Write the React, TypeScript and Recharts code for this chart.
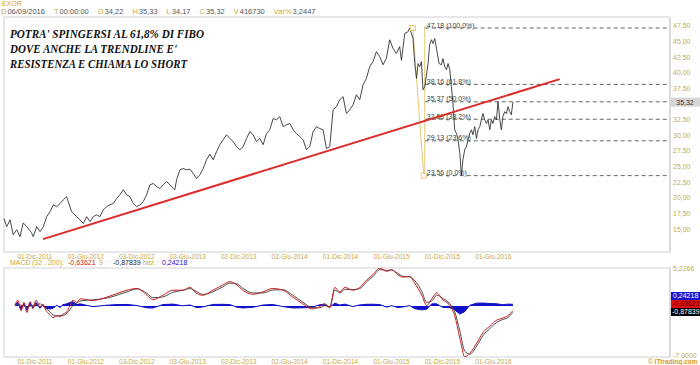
import React from 'react';
import {
  Area,
  ComposedChart,
  Line,
  ReferenceArea,
  ReferenceDot,
  ReferenceLine,
  XAxis,
  YAxis,
} from 'recharts';

// time axis is in weeks from mid-Aug 2011
const dateLabels = [
  '01-Dic-2011', '01-Giu-2012', '03-Dic-2012', '03-Giu-2013', '02-Dic-2013',
  '02-Giu-2014', '01-Dic-2014', '01-Giu-2015', '01-Dic-2015', '01-Giu-2016',
];
const dateTickWeeks = [15.8, 41.8, 67.8, 93.8, 119.8, 145.8, 171.8, 197.8, 223.8, 249.8];
const weekDomain = [0, 340];

// 35,00 sits under the last-price tag, so it is not listed
const priceTicks = [15, 17.5, 20, 22.5, 25, 27.5, 30, 32.5, 37.5, 40, 42.5, 45, 47.5];
const priceDomain = [11.34, 48.94];

// [week, close]
const closes: [number, number][] = [
  [0, 16.7], [1.4, 15.4], [3.1, 16.5], [4.7, 14.1], [6.5, 14.9], [8.2, 13.8], [9.8, 16.0], [11.6, 15.4],
  [14.1, 14.4], [14.9, 13.8], [16.7, 15.4], [18.4, 14.6], [20.1, 15.4], [21.8, 17.0], [23.5, 17.8], [25.2, 18.9],
  [26.9, 18.6], [28.6, 19.1], [30.3, 19.7], [32.0, 20.2], [32.8, 19.4], [34.5, 17.8], [35.4, 17.5], [37.1, 17.0],
  [38.8, 16.5], [40.5, 15.9], [42.2, 17.0], [43.9, 16.2], [45.6, 17.0], [47.3, 17.3], [49.0, 17.0], [50.7, 18.1],
  [52.4, 18.6], [54.1, 18.9], [55.8, 19.1], [57.5, 19.9], [59.2, 20.5], [60.9, 21.3], [62.6, 20.5], [64.3, 20.2],
  [66.0, 19.1], [67.7, 18.6], [69.4, 18.9], [71.1, 19.4], [72.8, 20.5], [74.5, 22.1], [76.2, 22.3], [77.9, 21.8],
  [79.6, 21.5], [81.3, 22.1], [83.0, 22.6], [84.7, 22.1], [86.4, 21.5], [87.2, 21.3], [88.1, 22.9], [89.8, 24.5],
  [91.5, 24.7], [93.2, 24.5], [94.9, 24.6], [96.6, 23.9], [98.3, 23.1], [100.0, 23.7], [101.7, 24.7], [103.4, 26.1],
  [105.1, 27.0], [106.8, 26.1], [108.5, 27.4], [110.2, 28.5], [111.9, 29.3], [113.6, 30.1], [115.3, 29.5], [117.0, 29.0],
  [118.7, 28.2], [120.4, 27.7], [122.1, 28.2], [123.8, 29.5], [125.5, 30.6], [127.2, 30.1], [128.9, 29.0], [130.6, 29.5],
  [132.3, 28.5], [134.0, 30.3], [135.7, 30.9], [137.4, 32.7], [139.1, 32.5], [140.8, 33.0], [142.5, 31.4], [144.2, 31.7],
  [145.9, 31.9], [147.6, 30.9], [149.3, 30.3], [151.0, 29.8], [152.7, 29.3], [154.4, 27.7], [156.1, 28.2], [157.8, 30.6],
  [159.5, 31.4], [161.2, 31.1], [162.9, 30.9], [164.6, 27.9], [166.3, 28.2], [168.0, 34.1], [169.7, 34.6], [171.4, 35.7],
  [173.1, 36.2], [174.8, 33.5], [176.5, 34.1], [178.2, 34.9], [179.9, 36.5], [181.6, 35.7], [183.3, 38.1], [185.0, 39.1],
  [186.7, 41.0], [188.4, 41.8], [190.1, 43.4], [191.8, 42.6], [193.5, 41.3], [195.2, 42.3], [196.9, 45.3], [198.6, 43.9],
  [200.3, 43.1], [202.0, 44.2], [202.9, 42.0], [204.6, 46.3], [206.3, 46.6], [207.1, 47.18], [208.8, 45.5], [209.7, 41.5],
  [210.6, 39.1], [211.4, 41.5], [212.2, 41.0], [213.1, 41.8], [213.9, 37.3], [214.8, 37.8], [216.5, 41.5], [217.3, 44.5],
  [218.2, 45.3], [219.0, 44.7], [219.9, 45.5], [220.8, 43.9], [222.1, 41.5], [223.3, 41.3], [224.1, 42.3], [225.0, 41.0],
  [225.9, 40.5], [226.7, 41.5], [227.6, 40.5], [228.4, 37.8], [229.2, 35.1], [230.1, 30.9], [231.0, 30.3], [231.8, 29.3],
  [232.7, 27.1], [233.5, 23.6], [234.3, 26.1], [235.2, 27.7], [236.1, 28.2], [236.9, 29.3], [237.8, 30.3], [238.6, 30.9],
  [239.4, 30.1], [240.3, 31.4], [241.2, 29.5], [242.0, 30.9], [242.9, 31.4], [243.7, 32.5], [244.5, 33.5], [245.4, 32.5],
  [246.3, 31.9], [247.1, 32.5], [248.0, 30.9], [248.8, 32.5], [249.6, 31.9], [250.5, 33.0], [251.4, 32.5], [252.2, 35.4],
  [253.1, 32.5], [253.9, 30.9], [254.7, 33.0], [255.6, 33.8], [256.5, 33.5], [257.3, 34.6], [258.2, 33.8], [259.0, 33.3],
  [259.8, 35.32],
];

// fibonacci retracement drawn on the 2015-2016 swing
const fibValues = [47.18, 38.16, 35.37, 32.58, 29.13, 23.56];
const fibPercents = ['100,0%', '61,8%', '50,0%', '38,2%', '23,6%', '0,0%'];
const fibHighWeek = 208.7;
const fibLowWeek = 214.3;
const fibStartWeek = 214.8;

// trendline [week, price]
const trendStart = [19.9, 13.4];
const trendEnd = [283.7, 39.0];

const lastClose = 35.32;

const headerFields = [
  ['D', '06/09/2016'], ['T', '00:00:00'], ['O', '34,22'], ['H', '35,33'],
  ['L', '34,17'], ['C', '35,32'], ['V', '416730'], ['Var%', '3,2447'],
];
const titleLines = [
  "POTRA' SPINGERSI AL 61,8% DI FIBO",
  "DOVE ANCHE LA TRENDLINE E'",
  'RESISTENZA E CHIAMA LO SHORT',
];

// MACD (32, 200) : [week, macd, signal, hist]
const macdRows: [number, number, number, number][] = [
  [5.6, 0.1, 0.0, 0.2], [7.1, 0.8, 0.3, 0.5], [8.7, -0.6, 0.1, -0.6], [10.2, 0.5, 0.0, 0.4],
  [11.7, -0.9, -0.2, -0.6], [13.3, 0.6, 0.0, 0.5], [14.8, -0.35, 0.1, -0.3], [16.3, 0.8, 0.2, 0.5],
  [18.4, -0.1, 0.3, -0.3], [19.9, 0.2, 0.0, 0.2], [21.4, -0.6, -0.3, -0.3], [23.5, -1.2, -0.8, -0.4],
  [25.0, -1.6, -1.2, -0.3], [27.0, -1.3, -1.4, 0.1], [28.6, -1.5, -1.3, -0.2], [30.1, -1.1, -1.3, 0.2],
  [32.1, -0.8, -1.0, 0.3], [33.7, 0.1, -0.5, 0.5], [35.2, 0.8, 0.1, 0.6], [37.2, 0.5, 0.4, 0.2],
  [38.8, 1.0, 0.7, 0.3], [45.4, 0.77, 0.85, -0.08], [52.6, 1.24, 1.1, 0.12], [57.7, 1.72, 1.5, 0.2],
  [62.8, 2.18, 1.95, 0.22], [67.9, 2.42, 2.35, 0.07], [73.0, 1.48, 1.75, -0.25], [76.0, 0.87, 1.15, -0.27],
  [81.1, 1.48, 1.25, 0.2], [86.2, 2.18, 1.9, 0.27], [91.3, 2.18, 2.15, 0.03], [94.9, 2.56, 2.4, 0.15],
  [98.5, 1.72, 1.95, -0.22], [101.5, 1.48, 1.6, -0.12], [106.6, 2.18, 1.95, 0.22], [111.7, 2.89, 2.65, 0.24],
  [115.3, 3.35, 3.15, 0.2], [118.9, 2.89, 3.05, -0.16], [121.9, 2.18, 2.45, -0.26], [127.0, 1.62, 1.8, -0.18],
  [132.1, 1.94, 1.8, 0.14], [137.2, 2.42, 2.2, 0.22], [142.3, 2.18, 2.25, -0.07], [147.4, 1.24, 1.5, -0.26],
  [152.5, 0.31, 0.55, -0.24], [157.1, -0.39, -0.2, -0.19], [161.2, -0.07, -0.25, 0.18], [163.8, 0.31, 0.05, 0.26],
  [166.3, -0.25, -0.1, -0.15], [168.9, 2.56, 2.2, 0.4], [171.4, 1.94, 1.8, 0.14], [174.0, 2.56, 2.3, 0.26],
  [178.1, 2.18, 2.25, -0.07], [181.6, 2.56, 2.4, 0.16], [185.2, 3.59, 3.35, 0.24], [188.3, 4.3, 4.05, 0.25],
  [191.8, 5.2, 5.0, 0.2], [195.4, 4.76, 4.9, -0.14], [197.9, 5.0, 4.95, 0.05], [201.0, 4.3, 4.5, -0.2],
  [203.6, 3.97, 4.1, -0.13], [207.1, 4.06, 4.0, 0.06], [209.7, 3.13, 3.5, -0.37], [213.3, 1.48, 2.0, -0.52],
  [215.8, 0.07, 0.5, -0.43], [218.4, 1.01, 0.7, 0.31], [220.9, 1.8, 1.5, 0.3], [224.0, 0.87, 1.05, -0.18],
  [227.6, 0.07, 0.3, -0.23], [230.1, -1.34, -0.8, -0.54], [232.7, -4.39, -3.4, -1.1], [235.2, -6.97, -6.2, -0.77],
  [237.8, -6.5, -6.6, 0.1], [241.3, -5.1, -5.5, 0.4], [244.4, -3.69, -4.1, 0.41], [248.0, -2.75, -3.1, 0.35],
  [251.5, -1.94, -2.25, 0.31], [254.6, -1.66, -1.85, 0.19], [257.1, -1.34, -1.6, 0.26], [259.8, -0.636, -0.878, 0.242],
];
const macdDomain = [-7, 5.2266];
const macdTicks = [5.2266, -7];
const macdLast = { macd: -0.63621, signal: -0.87839, hist: 0.24218 };

const GOLD = '#c9a83e';
const SANS = '"Liberation Sans", Arial, sans-serif';
const YELLOW = '#e3c874';

const comma = (v: number, d: number) => v.toFixed(d).replace('.', ',');

const priceData = closes.map(([week, close]) => ({ week, close }));
const macdData = macdRows.map(([week, macd, signal, hist]) => ({ week, macd, signal, hist }));

function DateTick(props: any) {
  const { x, y, payload } = props;
  const i = dateTickWeeks.indexOf(payload.value);
  return (
    <text x={x} y={y + 7} textAnchor="middle" fontSize={6.5} fontFamily={SANS} fill={GOLD}>
      {dateLabels[i] ?? ''}
    </text>
  );
}

function MacdTick(props: any) {
  const { x, y, payload } = props;
  // the bottom value is lifted a little so it clears the copyright line
  const shift = payload.value < 0 ? -2 : 0;
  return (
    <text x={x} y={y + 2.5 + shift} fontSize={7} fontFamily={SANS} fill={GOLD}>
      {comma(payload.value, 4)}
    </text>
  );
}

const fibLabel = (text: string) => (props: any) => {
  const vb = props.viewBox || {};
  return (
    <text x={(vb.x ?? 0) + 2} y={(vb.y ?? 0) - 0.5} fontSize={7} fontFamily={SANS} fill="#444">
      {text}
    </text>
  );
};

function PriceTag(props: any) {
  const vb = props.viewBox || {};
  const right = (vb.x ?? 0) + (vb.width ?? 0);
  const y = vb.y ?? 0;
  return (
    <g>
      <rect x={right + 1} y={y - 4.5} width={30} height={9} fill="#d6d6d6" />
      <text x={right + 15} y={y + 2.5} textAnchor="middle" fontSize={7} fontFamily={SANS} fill="#333">
        {comma(lastClose, 2)}
      </text>
    </g>
  );
}

const square = (p: any) => (
  <rect x={p.cx - 2.5} y={p.cy - 2.5} width={5} height={5} fill="#fff" stroke={YELLOW} strokeWidth={1} />
);

export default function App() {
  const txt = { position: 'absolute' as const, fontFamily: SANS, fontSize: 7, lineHeight: '8px', whiteSpace: 'nowrap' as const };
  return (
    <div style={{ position: 'absolute', left: 0, top: 0, width: 700, height: 365, background: '#fff', overflow: 'hidden' }}>
      {/* price panel */}
      <div style={{ position: 'absolute', left: 0, top: 0 }}>
        <ComposedChart width={700} height={262} data={priceData} margin={{ top: 17, right: 0, bottom: 0, left: 4 }}>
          <ReferenceArea x1={weekDomain[0]} x2={weekDomain[1]} y1={priceDomain[0]} y2={priceDomain[1]} fill="none" stroke="#d0d0d0" />
          <XAxis
            dataKey="week"
            type="number"
            domain={weekDomain}
            ticks={dateTickWeeks}
            height={10}
            axisLine={false}
            tickLine={false}
            tickSize={0}
            tickMargin={0}
            interval={0}
            tick={<DateTick />}
          />
          <YAxis
            orientation="right"
            type="number"
            width={30}
            domain={priceDomain}
            allowDataOverflow
            ticks={priceTicks}
            interval={0}
            tickFormatter={(v: number) => comma(v, 2)}
            tickLine={false}
            tickSize={0}
            tickMargin={3}
            axisLine={{ stroke: '#cfcfcf' }}
            tick={{ fontSize: 7, fill: GOLD, fontFamily: SANS }}
          />
          {fibValues.map((v, i) => (
            <ReferenceLine
              key={v}
              segment={[{ x: fibStartWeek, y: v }, { x: weekDomain[1], y: v }]}
              stroke="#666"
              strokeDasharray="4 3"
              label={fibLabel(`${comma(v, 2)} (${fibPercents[i]})`)}
            />
          ))}
          <ReferenceLine
            segment={[{ x: fibHighWeek, y: fibValues[0] }, { x: fibLowWeek, y: fibValues[5] }]}
            stroke={YELLOW}
          />
          <ReferenceLine
            segment={[{ x: fibStartWeek, y: fibValues[0] + 0.3 }, { x: fibStartWeek, y: fibValues[5] - 0.3 }]}
            stroke={YELLOW}
          />
          <Line
            dataKey="close"
            type="linear"
            stroke="#333"
            strokeWidth={0.9}
            dot={false}
            isAnimationActive={false}
          />
          <ReferenceLine
            segment={[{ x: trendStart[0], y: trendStart[1] }, { x: trendEnd[0], y: trendEnd[1] }]}
            stroke="#dd2a2a"
            strokeWidth={2}
          />
          <ReferenceDot x={fibHighWeek} y={fibValues[0]} r={3} shape={square} />
          <ReferenceDot x={fibLowWeek} y={fibValues[5]} r={3} shape={square} />
          <ReferenceLine y={lastClose} stroke="none" label={PriceTag} />
        </ComposedChart>
      </div>

      {/* MACD panel */}
      <div style={{ position: 'absolute', left: 0, top: 260 }}>
        <ComposedChart width={700} height={105} data={macdData} margin={{ top: 8, right: 0, bottom: 0, left: 4 }}>
          <ReferenceArea x1={weekDomain[0]} x2={weekDomain[1]} y1={macdDomain[0]} y2={macdDomain[1]} fill="none" stroke="#d0d0d0" />
          <XAxis
            dataKey="week"
            type="number"
            domain={weekDomain}
            ticks={dateTickWeeks}
            height={8}
            axisLine={false}
            tickLine={false}
            tickSize={0}
            tickMargin={0}
            interval={0}
            tick={<DateTick />}
          />
          <YAxis
            orientation="right"
            type="number"
            width={30}
            domain={macdDomain}
            allowDataOverflow
            ticks={macdTicks}
            interval={0}
            tickLine={false}
            tickSize={0}
            tickMargin={3}
            axisLine={{ stroke: '#cfcfcf' }}
            tick={<MacdTick />}
          />
          <Area
            dataKey="hist"
            type="linear"
            baseValue={0}
            stroke="#1010c8"
            strokeWidth={1}
            fill="#1010c8"
            fillOpacity={1}
            dot={false}
            isAnimationActive={false}
          />
          <Line dataKey="signal" type="monotone" stroke="#4a4a4a" strokeWidth={1} dot={false} isAnimationActive={false} />
          <Line dataKey="macd" type="monotone" stroke="#cc2222" strokeWidth={1} dot={false} isAnimationActive={false} />
        </ComposedChart>
      </div>

      {/* header */}
      <div style={{ ...txt, left: 2, top: 0, lineHeight: '7px', color: '#d9a23c' }}>EXOR</div>
      <div style={{ ...txt, left: 1, top: 8, lineHeight: '7px', fontSize: 7.5, display: 'flex', gap: 9 }}>
        {headerFields.map(([k, v]) => (
          <span key={k}>
            <span style={{ color: GOLD, marginRight: 1 }}>{k}</span>
            <span style={{ color: '#555' }}>{v}</span>
          </span>
        ))}
      </div>

      {/* comment on the chart */}
      <svg width={260} height={80} style={{ position: 'absolute', left: 0, top: 0 }}>
        {titleLines.map((line, i) => (
          <text
            key={line}
            x={10}
            y={38 + i * 15}
            fontFamily='"Liberation Serif", "Times New Roman", serif'
            fontWeight="bold"
            fontStyle="italic"
            fontSize={12.5}
            fill="#111"
            textLength={[194, 167, 177][i]}
            lengthAdjust="spacingAndGlyphs"
          >
            {line}
          </text>
        ))}
      </svg>

      {/* MACD legend */}
      <div style={{ ...txt, left: 10, top: 259, color: GOLD }}>MACD</div>
      <div style={{ ...txt, left: 32, top: 259, color: GOLD }}>(32 , 200):</div>
      <div style={{ ...txt, left: 68, top: 259, color: '#cc2222' }}>{comma(macdLast.macd, 5)}</div>
      <div style={{ ...txt, left: 99, top: 259, color: GOLD }}>9 :</div>
      <div style={{ ...txt, left: 113, top: 259, color: '#222' }}>{comma(macdLast.signal, 5)}</div>
      <div style={{ ...txt, left: 143, top: 259, color: GOLD }}>hist :</div>
      <div style={{ ...txt, left: 162, top: 259, color: '#1010c8' }}>{comma(macdLast.hist, 5)}</div>

      {/* MACD value boxes */}
      <div style={{ ...txt, left: 671, top: 292, width: 29, height: 8, background: '#1414d0', color: '#fff', paddingLeft: 2 }}>
        {comma(macdLast.hist, 5)}
      </div>
      <div style={{ ...txt, left: 671, top: 300, width: 29, height: 8, background: '#e01010', color: '#400', paddingLeft: 1 }}>
        {comma(macdLast.macd, 5)}
      </div>
      <div style={{ ...txt, left: 671, top: 308, width: 29, height: 8, background: '#000', color: '#fff', paddingLeft: 1 }}>
        {comma(macdLast.signal, 5)}
      </div>

      <div style={{ ...txt, left: 648, top: 358, lineHeight: '7px', color: '#d99a1e', fontWeight: 'bold', fontSize: 6.5 }}>© ITtrading.com</div>
    </div>
  );
}
